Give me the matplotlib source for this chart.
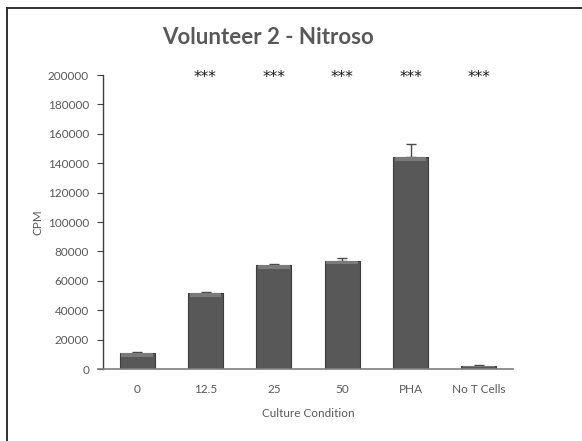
import matplotlib
matplotlib.use("Agg")
import matplotlib.pyplot as plt
from matplotlib.lines import Line2D

plt.rcParams['font.family'] = ['Lato', 'DejaVu Sans']

conditions = ['0', '12.5', '25', '50', 'PHA', 'No T Cells']
cpm_mean = [10800, 51500, 70600, 73800, 143900, 2200]
cpm_err = [900, 700, 600, 1600, 9300, 600]
significance = ['', '***', '***', '***', '***', '***']
y_ticks = [0, 20000, 40000, 60000, 80000, 100000, 120000, 140000, 160000, 180000, 200000]

text_grey = '#595959'
bar_grey = '#585858'

fig = plt.figure(figsize=(5.82, 4.41), dpi=100)
ax = fig.add_axes([103/582, 1-369/441, 410/582, 294/441])

x = list(range(len(conditions)))
ax.bar(x, cpm_mean, width=0.51, color=bar_grey, edgecolor='#3c3c3c', linewidth=0.8, zorder=2)
# lighter bevel strip along the top of each bar
bevel = 2600
ax.bar(x, [bevel if v > bevel else v * 0.5 for v in cpm_mean],
       bottom=[v - (bevel if v > bevel else v * 0.5) for v in cpm_mean],
       width=0.46, color='#7a7a7a', linewidth=0, zorder=3)
ax.errorbar(x, cpm_mean, yerr=[[0] * len(cpm_err), cpm_err], fmt='none',
            ecolor='#4a4a4a', elinewidth=1.0, capsize=3.5, capthick=1.0, zorder=1)

for xi, s in zip(x, significance):
    if s:
        ax.text(xi, 198500, s, ha='center', va='center', fontsize=11,
                family='DejaVu Sans', color='#1a1a1a')

ax.set_xlim(-0.5, len(conditions) - 0.5)
ax.set_ylim(0, 200000)
ax.set_yticks(y_ticks)
ax.set_yticklabels([str(t) for t in y_ticks])
ax.set_xticks(x)
ax.set_xticklabels(conditions)

for side in ['top', 'right']:
    ax.spines[side].set_visible(False)
ax.spines['left'].set_color('#404040')
ax.spines['bottom'].set_color('#7f7f7f')
ax.spines['left'].set_linewidth(1.0)
ax.spines['bottom'].set_linewidth(1.2)
ax.spines['bottom'].set_bounds(-0.57, len(conditions) - 0.5)
ax.tick_params(axis='y', length=4, color='#404040', labelcolor=text_grey, labelsize=8.5, pad=6)
ax.tick_params(axis='x', length=0, labelcolor=text_grey, labelsize=8.5, pad=11)

ax.set_ylabel('CPM', color=text_grey, fontsize=8.5, labelpad=3)
ax.set_xlabel('Culture Condition', color=text_grey, fontsize=8.5, labelpad=9)

fig.text(268/582, 1-38/441, 'Volunteer 2 - Nitroso', ha='center', va='center',
         fontsize=16, fontweight='bold', color=text_grey)

# chart frame (left and top edges)
fig.add_artist(Line2D([7/582, 7/582], [0, 1-8/441], transform=fig.transFigure,
                      color='#303030', linewidth=1.4))
fig.add_artist(Line2D([7/582, 1], [1-8/441, 1-8/441], transform=fig.transFigure,
                      color='#303030', linewidth=1.4))

fig.savefig('out.png', dpi=100)
